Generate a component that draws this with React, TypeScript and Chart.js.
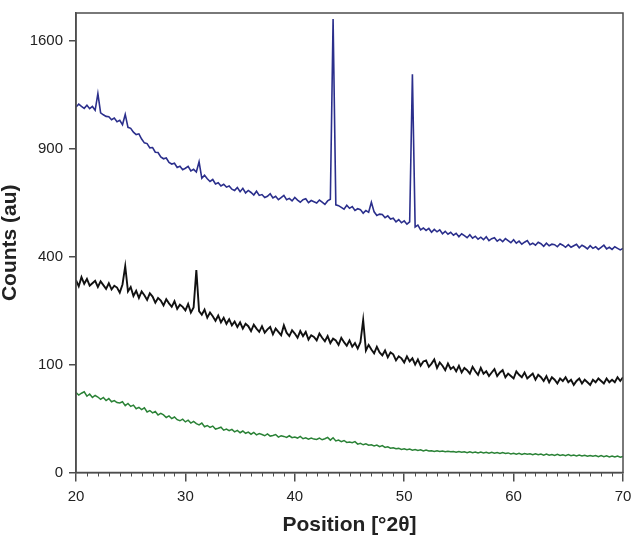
import React, { useEffect, useRef } from 'react';
import { Chart, registerables, LinearScale } from 'chart.js';

Chart.register(...registerables);

// ---- data (counts sampled every 0.25 °2θ, starting at 20) ----
const X_START = 20;
const X_STEP = 0.25;
const X_MIN = 20;
const X_MAX = 70;
const X_TICKS = [20, 30, 40, 50, 60, 70];
const Y_TICKS = [0, 100, 400, 900, 1600];
const Y_MAX = 1815;

const blueCounts = [
  1148, 1166, 1152, 1140,
  1160, 1138, 1152, 1128,
  1234, 1112, 1100, 1090,
  1088, 1070, 1080, 1058,
  1066, 1040, 1102, 1024,
  1018, 996, 982, 986,
  956, 934, 930, 906,
  908, 882, 880, 856,
  846, 850, 826, 818,
  822, 800, 806, 788,
  796, 806, 782, 790,
  776, 830, 744, 760,
  742, 728, 738, 716,
  722, 706, 714, 700,
  706, 690, 684, 698,
  678, 694, 672, 684,
  674, 662, 680, 660,
  664, 650, 656, 668,
  648, 656, 640, 650,
  660, 640, 646, 634,
  650, 638, 628, 640,
  644, 626, 636, 630,
  624, 638, 628, 618,
  634, 642, 1767, 616,
  612, 604, 596, 614,
  600, 608, 590, 598,
  594, 578, 590, 582,
  628, 584, 568, 574,
  572, 558, 566, 552,
  556, 540, 550, 536,
  544, 530, 540, 1364,
  518, 526, 506, 514,
  504, 512, 496, 508,
  498, 506, 490, 500,
  488, 496, 484, 492,
  478, 490, 482, 474,
  486, 472, 480, 468,
  476, 466, 478, 462,
  470, 474, 460, 468,
  458, 470, 462, 454,
  466, 452, 460, 448,
  456, 462, 446, 452,
  444, 456, 450, 440,
  452, 442, 448, 446,
  438, 450, 444, 436,
  446, 436, 442, 448,
  434, 444, 438, 430,
  442, 432, 438, 428,
  436, 444, 430, 436,
  428, 438, 432, 426,
  432,
];

const blackCounts = [
  318, 298, 328, 306,
  322, 300, 308, 316,
  296, 314, 302, 290,
  308, 288, 300, 294,
  278, 304, 366, 282,
  296, 268, 284, 262,
  282, 270, 256, 276,
  266, 248, 262, 254,
  240, 258, 246, 236,
  252, 230, 242, 236,
  226, 244, 220, 234,
  352, 224, 214, 228,
  206, 220, 210, 198,
  212, 194, 206, 190,
  202, 186, 196, 182,
  194, 178, 190, 184,
  172, 188, 178, 170,
  184, 168, 176, 182,
  164, 178, 170, 162,
  186, 168, 160, 174,
  166, 156, 172, 160,
  170, 152, 162, 158,
  150, 166, 156, 148,
  160, 144, 154, 150,
  140, 156, 146, 138,
  150, 136, 144, 132,
  146, 200, 128, 140,
  130, 122, 136, 124,
  118, 128, 114, 124,
  120, 108, 116, 112,
  104, 116, 106, 112,
  100, 110, 98, 106,
  108, 96, 102, 110,
  94, 104, 98, 90,
  102, 92, 96, 88,
  98, 86, 94, 90,
  84, 96, 88, 82,
  94, 84, 88, 80,
  86, 92, 80, 86,
  90, 78, 84, 80,
  76, 88, 82, 78,
  86, 76, 80, 84,
  74, 82, 78, 72,
  80, 70, 78, 74,
  68, 76, 72, 78,
  70, 74, 66, 72,
  76, 68, 74, 70,
  66, 74, 70, 76,
  72, 68, 76, 70,
  74, 70, 78, 72,
  78,
];

const greenCounts = [
  55, 51.5, 54, 56,
  50, 53, 48.5, 51,
  49, 46, 48.5, 44.5,
  47, 43, 44.5, 42,
  41.5, 43, 38.5, 41,
  37.5, 39, 35, 36.5,
  34, 36, 31.5, 33,
  30.5, 32, 28.5, 30,
  28.5, 26, 27.5, 25,
  26.5, 24, 23, 24.5,
  22, 23.5, 21, 22.5,
  20.5, 19.5, 21, 18,
  19, 17.5, 18.5, 16.2,
  16.8, 17.6, 15.4, 16.2,
  15, 16, 14.2, 15.2,
  13.6, 14.8, 13.2, 14,
  12.6, 13.8, 12.2, 13,
  12.4, 11.6, 12.8, 11.4,
  11.8, 12.4, 10.8, 11.6,
  11.2, 10.6, 11.6, 10.4,
  10.8, 10.2, 11.2, 9.8,
  10.4, 9.6, 10.2, 9.6,
  9.4, 10.2, 9.2, 9.8,
  10.6, 9.0, 10.4, 8.6,
  9.0, 8.2, 8.8, 7.8,
  8.0, 7.6, 8.2, 6.9,
  7.3, 6.6, 7.1, 6.4,
  6.6, 6.1, 6.5, 5.7,
  6.2, 5.4, 5.7, 5.1,
  5.3, 4.9, 5.0, 4.6,
  4.8, 4.5, 4.7, 4.3,
  4.5, 4.2, 4.4, 4.0,
  4.3, 4.0, 4.1, 3.8,
  4.1, 3.8, 4.0, 3.7,
  3.9, 3.7, 3.8, 3.5,
  3.8, 3.5, 3.7, 3.4,
  3.7, 3.4, 3.6, 3.3,
  3.6, 3.3, 3.5, 3.2,
  3.5, 3.2, 3.4, 3.1,
  3.4, 3.1, 3.3, 2.95,
  3.2, 2.9, 3.15, 2.8,
  3.1, 2.85, 3.0, 2.7,
  3.0, 2.7, 2.9, 2.6,
  2.9, 2.6, 2.8, 2.5,
  2.85, 2.5, 2.7, 2.45,
  2.75, 2.4, 2.6, 2.35,
  2.6, 2.35, 2.55, 2.25,
  2.5, 2.3, 2.45, 2.15,
  2.45, 2.15, 2.4, 2.1,
  2.35, 2.05, 2.3, 2.0,
  2.2,
];

const BLUE = '#2b2f8c';
const BLACK = '#111111';
const GREEN = '#2a8236';
const AXIS = '#4d4d4d';
const TEXT = '#222222';
const FONT = "'Liberation Sans', Arial, Helvetica, sans-serif";

// square-root value scale
class SqrtScale extends LinearScale {
  static id = 'sqrt';
  static defaults = {};
  getPixelForValue(value: any) {
    if (value === null || value === undefined || isNaN(value)) return NaN;
    const lo = Math.sqrt(Math.max(0, this.min));
    const hi = Math.sqrt(Math.max(0, this.max));
    return this.getPixelForDecimal((Math.sqrt(Math.max(0, value)) - lo) / (hi - lo));
  }
  getValueForPixel(pixel: number) {
    const lo = Math.sqrt(Math.max(0, this.min));
    const hi = Math.sqrt(Math.max(0, this.max));
    const s = lo + this.getDecimalForPixel(pixel) * (hi - lo);
    return s * s;
  }
  buildTicks() {
    return Y_TICKS.filter((v) => v >= this.min && v <= this.max).map((v) => ({ value: v }));
  }
}
Chart.register(SqrtScale as any);

const toPoints = (arr: number[]) => arr.map((y, i) => ({ x: X_START + i * X_STEP, y }));

const framePlugin = {
  id: 'frameAndMinor',
  afterDraw(chart: any) {
    const { ctx, chartArea: a, scales } = chart;
    ctx.save();
    ctx.strokeStyle = AXIS;
    ctx.lineWidth = 1.5;
    ctx.strokeRect(a.left, a.top, a.right - a.left, a.bottom - a.top);
    ctx.lineWidth = 1;
    const xs = scales.x;
    for (let v = X_MIN; v <= X_MAX; v += 1) {
      if (v % 10 === 0) continue;
      const px = Math.round(xs.getPixelForValue(v)) + 0.5;
      ctx.beginPath();
      ctx.moveTo(px, a.bottom);
      ctx.lineTo(px, a.bottom + 4);
      ctx.stroke();
    }
    ctx.restore();
  },
};

export default function App() {
  const ref = useRef<HTMLCanvasElement | null>(null);
  useEffect(() => {
    if (!ref.current) return;
    const chart = new Chart(ref.current, {
      type: 'line',
      data: {
        datasets: [
          { data: toPoints(blueCounts), borderColor: BLUE, borderWidth: 1.6, pointRadius: 0, fill: false, tension: 0 },
          { data: toPoints(blackCounts), borderColor: BLACK, borderWidth: 1.9, pointRadius: 0, fill: false, tension: 0 },
          { data: toPoints(greenCounts), borderColor: GREEN, borderWidth: 1.5, pointRadius: 0, fill: false, tension: 0 },
        ],
      },
      options: {
        animation: false,
        responsive: false,
        events: [],
        layout: { padding: { top: 13, right: 8, left: 0, bottom: 0 } },
        plugins: { legend: { display: false }, tooltip: { enabled: false } },
        scales: {
          x: {
            type: 'linear',
            min: X_MIN,
            max: X_MAX,
            afterBuildTicks: (s: any) => { s.ticks = X_TICKS.map((v) => ({ value: v })); },
            afterFit: (s: any) => { s.height = 65.5; s.paddingLeft = 0; s.paddingRight = 0; },
            border: { display: true, color: AXIS, width: 1.5 },
            grid: { display: true, drawOnChartArea: false, drawTicks: true, tickLength: 9, color: AXIS, lineWidth: 1.5 },
            ticks: { color: TEXT, padding: 6, maxRotation: 0, autoSkip: false, font: { family: FONT, size: 15 }, callback: (v: any) => String(v) },
            title: { display: true, text: 'Position [°2θ]', color: TEXT, font: { family: FONT, size: 21, weight: 'bold' }, padding: { top: 0, bottom: 0 } },
          },
          y: {
            type: 'sqrt' as any,
            min: 0,
            max: Y_MAX,
            afterFit: (s: any) => { s.width = 76; s.paddingTop = 0; s.paddingBottom = 0; },
            border: { display: true, color: AXIS, width: 1.5 },
            grid: { display: true, drawOnChartArea: false, drawTicks: true, tickLength: 7, color: AXIS, lineWidth: 1.5 },
            ticks: { color: TEXT, padding: 6, autoSkip: false, font: { family: FONT, size: 15 }, callback: (v: any) => String(v) },
            title: { display: true, text: 'Counts (au)', color: TEXT, font: { family: FONT, size: 21, weight: 'bold' }, padding: { top: -2, bottom: 0 } },
          },
        },
      } as any,
      plugins: [framePlugin],
    });
    return () => chart.destroy();
  }, []);
  return (
    <div style={{ position: 'absolute', left: 0, top: 0, width: 631, height: 538, background: '#fff' }}>
      <canvas ref={ref} width={631} height={538} style={{ display: 'block' }} />
    </div>
  );
}
